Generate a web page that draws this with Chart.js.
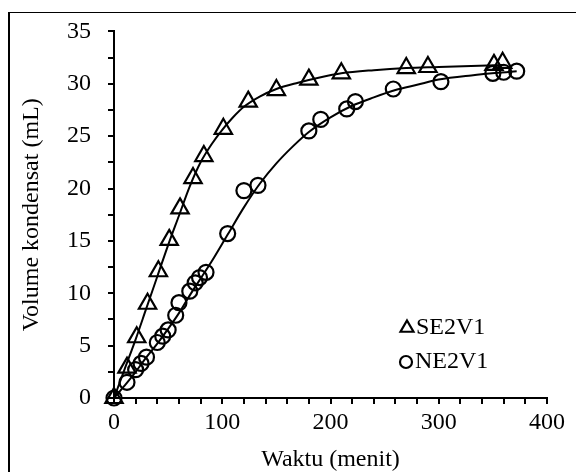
<!DOCTYPE html>
<html>
<head>
<meta charset="utf-8">
<script src="https://cdn.jsdelivr.net/npm/chart.js@4.4.1/dist/chart.umd.min.js"></script>
<style>
  html, body { margin: 0; padding: 0; background: #fff; }
  #wrap { position: relative; width: 576px; height: 472px; overflow: hidden; }
  #frame { position: absolute; left: 8px; top: 12px; width: 600px; height: 500px;
           border-top: 1.5px solid #000; border-left: 2px solid #000; }
  canvas { position: absolute; left: 0; top: 0; }
</style>
</head>
<body>
<div id="wrap">
  <div id="frame"></div>
  <canvas id="myChart" width="576" height="472"></canvas>
</div>
<script>
const seTime = [0, 12, 21, 31, 41, 51, 61, 73, 83, 101, 124, 150, 180, 210, 270, 290, 351, 359];
const seVolume = [0, 2.9, 5.8, 9.0, 12.1, 15.1, 18.1, 21.0, 23.1, 25.7, 28.3, 29.4, 30.4, 31.0, 31.5, 31.6, 31.8, 32.0];

const neTime = [0, 12, 20, 25, 30, 40, 45, 50, 57, 60, 70, 75, 79, 85, 105, 120, 133, 180, 191, 215, 223, 258, 302, 350, 360, 372];
const neVolume = [0, 1.5, 2.7, 3.3, 3.9, 5.3, 5.9, 6.5, 7.9, 9.1, 10.2, 11.0, 11.5, 12.0, 15.7, 19.8, 20.3, 25.5, 26.6, 27.6, 28.3, 29.5, 30.2, 31.0, 31.1, 31.2];

// Trend curves as they appear in the figure
const seCurveTime = [0, 10, 20, 30, 40, 50, 60, 70, 80, 90, 100, 110, 120, 135, 150, 170, 190, 210, 240, 270, 300, 330, 360];
const seCurveVolume = [0, 2.8, 5.6, 8.6, 11.6, 14.6, 17.4, 20.2, 22.5, 24.2, 25.6, 26.8, 27.8, 28.8, 29.5, 30.1, 30.6, 31.0, 31.3, 31.5, 31.6, 31.7, 31.8];

const neCurveTime = [0, 10, 20, 30, 40, 50, 60, 70, 80, 90, 105, 120, 135, 150, 165, 180, 200, 220, 240, 260, 280, 300, 330, 372];
const neCurveVolume = [0, 1.2, 2.5, 3.9, 5.2, 6.6, 8.1, 9.8, 11.4, 13.0, 15.6, 18.2, 20.5, 22.4, 24.0, 25.4, 26.8, 27.9, 28.7, 29.4, 29.9, 30.4, 30.8, 31.2];

const seriesLabels = ["SE2V1", "NE2V1"];
const xTicks = [0, 100, 200, 300, 400];
const yTicks = [0, 5, 10, 15, 20, 25, 30, 35];

const FONT = '"Liberation Serif", "Times New Roman", serif';

function toPoints(xs, ys) {
  return xs.map((x, i) => ({ x: x, y: ys[i] }));
}

// legend drawn inside the plot, lower right
const innerLegend = {
  id: "innerLegend",
  afterDraw(chart) {
    const ctx = chart.ctx;
    const items = [
      { style: "triangle", r: 7.5, x: 407, y: 328, text: seriesLabels[0] },
      { style: "circle", r: 6, x: 406, y: 362, text: seriesLabels[1] },
    ];
    ctx.save();
    items.forEach((it) => {
      ctx.strokeStyle = "#000";
      ctx.lineWidth = 2.2;
      ctx.beginPath();
      if (it.style === "triangle") {
        const h = it.r;
        ctx.moveTo(it.x, it.y - h);
        ctx.lineTo(it.x + h * 0.866, it.y + h * 0.5);
        ctx.lineTo(it.x - h * 0.866, it.y + h * 0.5);
        ctx.closePath();
      } else {
        ctx.arc(it.x, it.y, it.r, 0, Math.PI * 2);
      }
      ctx.stroke();
      ctx.fillStyle = "#000";
      ctx.font = "24px " + FONT;
      ctx.textAlign = "left";
      ctx.textBaseline = "middle";
      ctx.fillText(it.text, it.x + 9, it.y);
    });
    ctx.restore();
  },
};

const markerStyle = {
  showLine: false,
  pointBorderWidth: 2.2,
  pointBorderColor: "#000",
  pointBackgroundColor: "rgba(0,0,0,0)",
  clip: false,
};

const curveStyle = {
  showLine: true,
  borderColor: "#000",
  borderWidth: 2,
  cubicInterpolationMode: "monotone",
  pointRadius: 0,
  clip: false,
};

const data = {
  datasets: [
    Object.assign({ label: seriesLabels[0] + " fit", data: toPoints(seCurveTime, seCurveVolume) }, curveStyle),
    Object.assign({ label: seriesLabels[1] + " fit", data: toPoints(neCurveTime, neCurveVolume) }, curveStyle),
    Object.assign({ label: seriesLabels[0], data: toPoints(seTime, seVolume), pointStyle: "triangle", pointRadius: 10 }, markerStyle),
    Object.assign({ label: seriesLabels[1], data: toPoints(neTime, neVolume), pointStyle: "circle", pointRadius: 7.5 }, markerStyle),
  ],
};

const config = {
  type: "scatter",
  data: data,
  plugins: [innerLegend],
  options: {
    responsive: false,
    animation: false,
    layout: { padding: { left: 0, top: 26, right: 29, bottom: 0 } },
    plugins: {
      legend: { display: false },
      tooltip: { enabled: false },
    },
    scales: {
      x: {
        type: "linear",
        min: 0,
        max: 400,
        afterFit: (s) => { s.height = 74; },
        border: { display: true, color: "#000", width: 2 },
        grid: { drawOnChartArea: false, drawTicks: true, tickLength: 6, color: "#000", lineWidth: 2 },
        ticks: {
          stepSize: 20,
          autoSkip: false,
          maxRotation: 0,
          padding: 4,
          color: "#000",
          font: { family: FONT, size: 24 },
          callback: (v) => (xTicks.includes(v) ? v : ""),
        },
        title: {
          display: true,
          text: "Waktu (menit)",
          color: "#000",
          font: { family: FONT, size: 24, lineHeight: 1 },
          padding: { top: 0, bottom: 0 },
        },
      },
      y: {
        type: "linear",
        min: 0,
        max: 35,
        afterFit: (s) => { s.width = 114; },
        border: { display: true, color: "#000", width: 2 },
        grid: { drawOnChartArea: false, drawTicks: true, tickLength: 6, color: "#000", lineWidth: 2 },
        ticks: {
          stepSize: 2.5,
          autoSkip: false,
          padding: 17,
          color: "#000",
          font: { family: FONT, size: 24 },
          callback: (v) => (yTicks.includes(v) ? v : ""),
        },
        title: {
          display: true,
          text: "Volume kondensat (mL)",
          color: "#000",
          font: { family: FONT, size: 24, lineHeight: 1.2 },
          padding: { top: 17, bottom: 0 },
        },
      },
    },
  },
};

window.onload = function () {
  const ctx = document.getElementById("myChart").getContext("2d");
  new Chart(ctx, config);
};
</script>
</body>
</html>
